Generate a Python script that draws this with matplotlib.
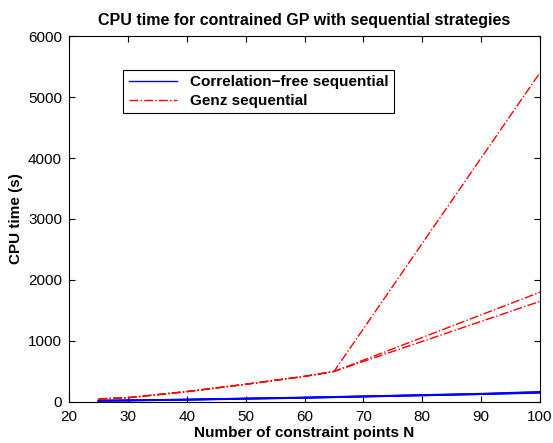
import matplotlib
matplotlib.use("Agg")
import matplotlib.pyplot as plt

plt.rcParams['font.family'] = ['Liberation Sans', 'DejaVu Sans']

# Correlation-free sequential (blue)
N_blue = [25, 30, 40, 50, 60, 70, 80, 90, 100]
blue_runs = [
    [20, 25, 38, 55, 70, 90, 110, 130, 160],
    [18, 24, 36, 52, 68, 88, 108, 128, 150],
    [22, 27, 40, 57, 73, 93, 114, 135, 165],
]

# Genz sequential (red)
N_red = [25, 30, 40, 50, 60, 65, 100]
red_runs = [
    [50, 70, 170, 290, 420, 500, 5400],
    [50, 70, 170, 290, 420, 500, 1800],
    [50, 70, 170, 290, 420, 500, 1650],
]

title = "CPU time for contrained GP with sequential strategies"
xlabel = "Number of constraint points N"
ylabel = "CPU time (s)"
labels = ["Correlation\u2212free sequential", "Genz sequential"]

fig = plt.figure(figsize=(5.53, 4.43), dpi=100)
ax = fig.add_axes([0.1248, 0.0926, 0.8517, 0.8261])

hb = None
for i, run in enumerate(blue_runs):
    l, = ax.plot(N_blue, run, color='#0000ff', lw=1.3, linestyle='-')
    if i == 0:
        hb = l
hr = None
for i, run in enumerate(red_runs):
    l, = ax.plot(N_red, run, color='#ff0000', lw=1.0, linestyle='-.')
    if i == 0:
        hr = l

ax.set_xlim(20, 100)
ax.set_ylim(0, 6000)
ax.set_xticks(range(20, 101, 10))
ax.set_yticks(range(0, 6001, 1000))
ax.tick_params(direction='in', top=True, right=True, labelsize=11, length=4)
ax.tick_params(axis='x', pad=6)
ax.tick_params(axis='y', pad=5)
for s in ax.spines.values():
    s.set_linewidth(0.8)

ax.set_title(title, fontsize=11.5, fontweight='bold', pad=8)
ax.set_xlabel(xlabel, fontsize=11, fontweight='bold', labelpad=1)
ax.set_ylabel(ylabel, fontsize=11, fontweight='bold', labelpad=4)

leg = ax.legend([hb, hr], labels, loc='upper left', bbox_to_anchor=(0.115, 0.907),
                borderaxespad=0, fancybox=False, edgecolor='black', framealpha=1,
                prop={'weight': 'bold', 'size': 11}, handlelength=3.2,
                borderpad=0.35, labelspacing=0.3)
leg.get_frame().set_linewidth(0.8)
for h in leg.get_lines():
    h.set_linewidth(1.0)

fig.savefig("out.png", dpi=100)
